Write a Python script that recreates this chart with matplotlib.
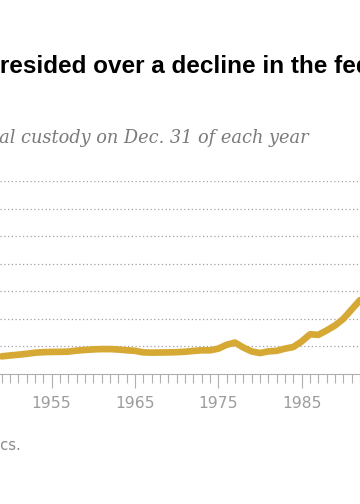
import numpy as np
import matplotlib
matplotlib.use("Agg")
import matplotlib.pyplot as plt
from matplotlib.ticker import MultipleLocator

# Federal prisoners on Dec. 31 (thousands)
years = list(range(1949, 1993))
prisoners = [16.0, 16.8, 17.5, 18.3, 19.3, 19.8, 20.0, 20.1, 20.3, 21.2,
             21.8, 22.3, 22.6, 22.6, 22.2, 21.5, 21.0, 19.6, 19.4, 19.5,
             19.6, 19.8, 20.2, 20.9, 21.5, 21.5, 23.0, 26.5, 28.5, 24.0,
             20.5, 19.0, 20.5, 21.0, 23.0, 24.5, 29.5, 36.0, 35.5, 39.5,
             44.0, 50.0, 58.5, 67.0]
year_ticks = [1955, 1965, 1975, 1985]
grid_levels = [25, 50, 75, 100, 125, 150, 175]

title = "Obama presided over a decline in the federal prison population"
subtitle = "Number of prisoners in federal custody on Dec. 31 of each year"
source = "Source: Bureau of Justice Statistics."

W, H, DPI = 360, 504, 100
fig = plt.figure(figsize=(W / DPI, H / DPI), dpi=DPI)
fig.patch.set_facecolor("white")

# axes span full width; baseline at y=374px, top gridline at y=181px
ax = fig.add_axes([0, (H - 374) / H, 1, (374 - 181) / H])
ax.set_xlim(1948.8, 1992.0)
ax.set_ylim(0, 175)

ax.plot(years, prisoners, color="#D6A935", lw=4.8, solid_capstyle="round",
        solid_joinstyle="round", zorder=3, clip_on=False)

for g in grid_levels:
    ax.axhline(g, color="#a0a0a0", lw=0.9, ls=(0, (1, 2.0)), zorder=1)

for s in ["top", "right", "left"]:
    ax.spines[s].set_visible(False)
ax.spines["bottom"].set_color("#b0b0b0")
ax.spines["bottom"].set_linewidth(0.8)
ax.set_yticks([])
ax.set_xticks(year_ticks)
ax.xaxis.set_minor_locator(MultipleLocator(1))
ax.tick_params(axis="x", which="major", length=10, width=0.8, color="#b0b0b0",
               labelsize=11.2, labelcolor="#9c9c9c", pad=6)
ax.tick_params(axis="x", which="minor", length=6.5, width=0.8, color="#b0b0b0")
ax.set_facecolor("white")

# texts that run off the left edge: shift by the width of the hidden prefix
renderer = fig.canvas.get_renderer()


def clipped_text(full, prefix, x_vis, y_px, **kw):
    probe = fig.text(0, 0, prefix, **kw)
    w = probe.get_window_extent(renderer).width
    probe.remove()
    fig.text((x_vis - w) / W, 1 - y_px / H, full, va="baseline", ha="left", **kw)


clipped_text(title, "Obama p", -0.5, 73,
             family="Liberation Sans", weight="bold", fontsize=17.5, color="black")
clipped_text(subtitle, "Number of prisoners in feder", -1, 143,
             family="DejaVu Serif", style="italic", fontsize=12.8, color="#7a7a7a")
clipped_text(source, "Source: Bureau of Justice Statisti", 0, 450,
             family="DejaVu Sans", fontsize=10.5, color="#8a8a8a")

fig.savefig("out.png", dpi=DPI, facecolor="white")
